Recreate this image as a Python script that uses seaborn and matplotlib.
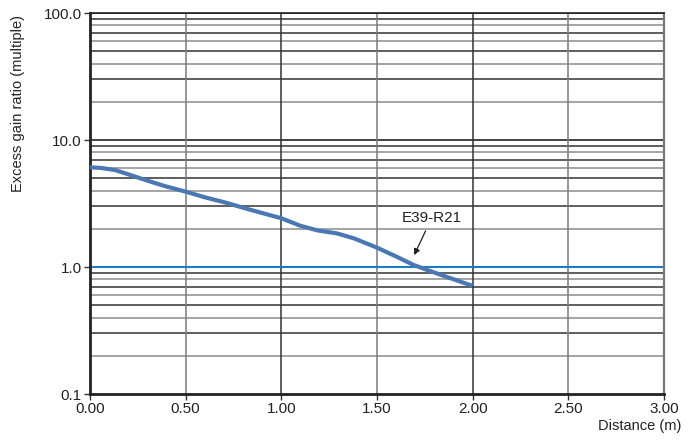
import numpy as np
import pandas as pd
import matplotlib
matplotlib.use("Agg")
import matplotlib.pyplot as plt
import seaborn as sns
from matplotlib.ticker import FixedLocator, NullFormatter

# curve (distance in m, excess gain multiple)
distance = [0.00, 0.06, 0.13, 0.20, 0.29, 0.39, 0.50, 0.60, 0.71, 0.81, 0.92,
            1.00, 1.10, 1.19, 1.29, 1.38, 1.50, 1.60, 1.69, 1.76, 1.86, 2.00]
gain = [6.10, 6.02, 5.80, 5.37, 4.84, 4.34, 3.92, 3.54, 3.21, 2.90, 2.61,
        2.42, 2.11, 1.94, 1.84, 1.68, 1.42, 1.21, 1.04, 0.95, 0.84, 0.71]

x_ticks = [0.0, 0.5, 1.0, 1.5, 2.0, 2.5, 3.0]
y_ticks = [0.1, 1.0, 10.0, 100.0]
y_ticklabels = ["0.1", "1.0", "10.0", "100.0"]
series_label = "E39-R21"

df = pd.DataFrame({"distance": distance, "gain": gain})

sns.set_theme(style="white")
plt.rcParams["font.family"] = ["Liberation Sans", "DejaVu Sans"]

fig = plt.figure(figsize=(6.92, 4.41), dpi=100)
ax = fig.add_axes([90 / 692, 1 - 394 / 441, 574 / 692, 381 / 441])

ax.set_yscale("log")
ax.set_xlim(0, 3)
ax.set_ylim(0.1, 100)

# grid: decades + minor lines, vertical every 0.5
minor = [m * 10.0 ** e for e in (-1, 0, 1) for m in range(2, 10)]
ax.yaxis.set_minor_locator(FixedLocator(minor))
ax.yaxis.set_minor_formatter(NullFormatter())
for i, v in enumerate(minor):
    ax.axhline(v, color="#333333" if i % 2 else "#8c8c8c", lw=1.1, zorder=1)
for v in [10.0, 100.0]:
    ax.axhline(v, color="#222222", lw=1.2, zorder=1)
for i, v in enumerate(x_ticks[1:-1]):
    ax.axvline(v, color="#333333" if i % 2 else "#7a7a7a", lw=1.1, zorder=1)

ax.axhline(1.0, color="#1b7ec4", lw=1.5, zorder=2)

sns.lineplot(data=df, x="distance", y="gain", ax=ax, color="#4a78b4", lw=3,
             zorder=3, legend=False, solid_capstyle="butt", solid_joinstyle="round")

ax.annotate(series_label, xy=(1.694, 1.24), xytext=(1.786, 2.43),
            ha="center", va="center", fontsize=11, color="#222222",
            arrowprops=dict(arrowstyle="-|>", color="#222222", lw=0.9,
                            mutation_scale=9, shrinkA=2, shrinkB=0))

ax.set_xticks(x_ticks)
ax.set_xticklabels([f"{v:.2f}" for v in x_ticks], fontsize=11)
ax.set_yticks(y_ticks)
ax.set_yticklabels(y_ticklabels, fontsize=11)
ax.tick_params(axis="both", which="major", direction="out", length=4, width=1,
               color="#333333", labelcolor="#222222", pad=2,
               bottom=True, left=True)
ax.tick_params(axis="y", which="minor", length=0)

ax.set_xlabel("")
ax.set_ylabel("")
for side in ["left", "bottom"]:
    ax.spines[side].set_linewidth(2.0)
    ax.spines[side].set_color("#222222")
ax.spines["top"].set_linewidth(1.2)
ax.spines["top"].set_color("#222222")
ax.spines["right"].set_linewidth(1.6)
ax.spines["right"].set_color("#777777")

fig.text(681 / 692, 1 - 426 / 441, "Distance (m)", ha="right", va="center",
         fontsize=10.5, color="#222222")
fig.text(18 / 692, 1 - 103 / 441, "Excess gain ratio (multiple)", ha="center",
         va="center", rotation=90, fontsize=10.5, color="#222222")

fig.savefig("out.png", dpi=100)
